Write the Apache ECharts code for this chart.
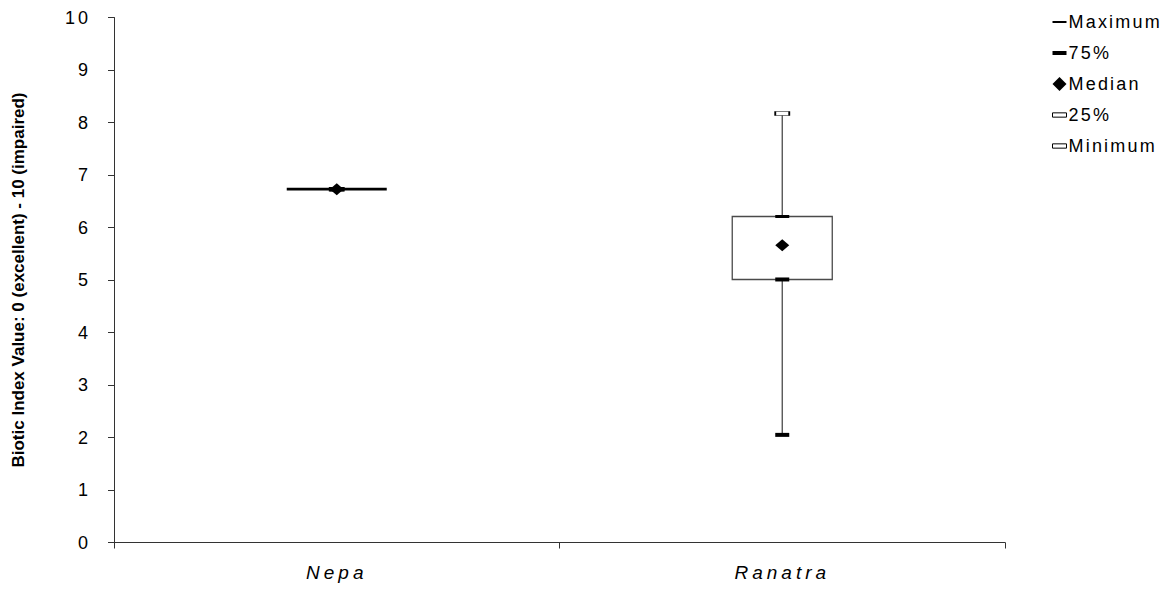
<!DOCTYPE html>
<html>
<head>
<meta charset="utf-8">
<script src="https://cdn.jsdelivr.net/npm/echarts@6/dist/echarts.min.js"></script>
<style>
html,body{margin:0;padding:0;background:#fff;}
#chart{width:1170px;height:591px;}
</style>
</head>
<body>
<div id="chart"></div>
<script>
const categories = ['Nepa', 'Ranatra'];
const maximum = [6.73, 8.17];
const q3 = [6.73, 6.21];
const median = [6.73, 5.66];
const q1 = [6.73, 5.01];
const minimum = [6.73, 2.05];
const yTicks = [0, 10, 1];
const yTitle = 'Biotic Index Value: 0 (excellent) - 10 (impaired)';
const legendNames = ['Maximum', '75%', 'Median', '25%', 'Minimum'];

const boxData = categories.map((c, i) => [i, minimum[i], q1[i], q3[i], maximum[i]]);

const chart = echarts.init(document.getElementById('chart'), null, { renderer: 'svg' });
const FONT = 'Liberation Sans, Arial, sans-serif';

function renderBox(params, api) {
  const x = api.value(0);
  const pMin = api.coord([x, api.value(1)]);
  const pQ1 = api.coord([x, api.value(2)]);
  const pQ3 = api.coord([x, api.value(3)]);
  const pMax = api.coord([x, api.value(4)]);
  const w = api.size([1, 0])[0] * 0.2245;
  const children = [];
  const flat = Math.abs(pQ1[1] - pQ3[1]) < 0.5;
  const stroke = { stroke: '#4a4a4a', lineWidth: 1.3 };
  if (!flat) {
    children.push({ type: 'line', shape: { x1: pMax[0], y1: pMax[1], x2: pQ3[0], y2: pQ3[1] }, style: stroke });
    children.push({ type: 'line', shape: { x1: pQ1[0], y1: pQ1[1], x2: pMin[0], y2: pMin[1] }, style: stroke });
    children.push({ type: 'rect', shape: { x: pQ1[0] - w / 2, y: pQ3[1], width: w, height: pQ1[1] - pQ3[1] }, style: Object.assign({ fill: '#fff' }, stroke) });
  } else {
    children.push({ type: 'line', shape: { x1: pQ1[0] - w / 2, y1: pQ1[1], x2: pQ1[0] + w / 2, y2: pQ1[1] }, style: { stroke: '#000', lineWidth: 2.7 } });
  }
  return { type: 'group', children: children };
}

function scatter(name, data, symbol, size, color, border, z) {
  return {
    name: name, type: 'scatter', data: data, symbol: symbol, symbolSize: size, z: z,
    itemStyle: { color: color, borderColor: border || color, borderWidth: border ? 1 : 0, opacity: 1 },
    emphasis: { disabled: true }, silent: true
  };
}

const option = {
  backgroundColor: '#fff',
  animation: false,
  grid: { left: 114, right: 165, top: 17.5, bottom: 48.5, containLabel: false, outerBoundsMode: 'none' },
  legend: {
    orient: 'vertical', left: 1052, top: 13, padding: 0, itemGap: 13, itemWidth: 14, itemHeight: 14,
    textStyle: { fontFamily: FONT, fontSize: 18, lineHeight: 18, color: '#000', padding: [0, 0, 0, -3] },
    data: [
      { name: legendNames[0], icon: 'path://M0,6L14,6L14,8L0,8Z', itemStyle: { color: '#000', borderWidth: 0 } },
      { name: legendNames[1], icon: 'path://M0,5L14,5L14,9L0,9Z', itemStyle: { color: '#000', borderWidth: 0 } },
      { name: legendNames[2], icon: 'path://M7,2L12,7L7,12L2,7Z', itemStyle: { color: '#000', borderWidth: 0 } },
      { name: legendNames[3], icon: 'path://M0.5,5L13.5,5L13.5,9L0.5,9Z', itemStyle: { color: '#fff', borderColor: '#000', borderWidth: 1 } },
      { name: legendNames[4], icon: 'path://M0.5,5L13.5,5L13.5,9L0.5,9Z', itemStyle: { color: '#fff', borderColor: '#000', borderWidth: 1 } }
    ]
  },
  xAxis: {
    type: 'category', data: categories, boundaryGap: true,
    axisLine: { lineStyle: { color: '#333', width: 1 } },
    axisTick: { show: true, length: 6, inside: false, lineStyle: { color: '#333' } },
    axisLabel: { fontFamily: FONT, fontSize: 19, fontStyle: 'italic', color: '#000', margin: 20 },
    splitLine: { show: false }
  },
  yAxis: {
    type: 'value', min: yTicks[0], max: yTicks[1], interval: yTicks[2],
    name: yTitle, nameLocation: 'middle', nameGap: 87, nameRotate: 90,
    nameTextStyle: { fontFamily: FONT, fontSize: 17, fontWeight: 'bold', color: '#000' },
    axisLine: { show: true, lineStyle: { color: '#333', width: 1 } },
    axisTick: { show: true, length: 6, lineStyle: { color: '#333' } },
    axisLabel: { fontFamily: FONT, fontSize: 18, color: '#000', margin: 23 },
    splitLine: { show: false }
  },
  series: [
    { name: 'box', type: 'custom', renderItem: renderBox, data: boxData, z: 2, silent: true,
      encode: { x: 0, y: [1, 2, 3, 4] } },
    scatter(legendNames[0], maximum, 'rect', [14, 4], '#fff', '#000', 3),
    scatter(legendNames[1], q3, 'rect', [14, 3], '#000', null, 4),
    scatter(legendNames[3], q1, 'rect', [14, 4], '#000', null, 4),
    scatter(legendNames[4], minimum, 'rect', [14, 4], '#000', null, 4),
    scatter(legendNames[2], median, 'diamond', [14, 12], '#000', null, 5)
  ]
};
chart.setOption(option);

// Excel-like wide letter spacing for the text groups
function spaceText() {
  const texts = document.querySelectorAll('#chart text');
  texts.forEach(t => {
    const s = t.textContent;
    let ls = 0;
    if (legendNames.indexOf(s) >= 0) ls = 2.2;
    else if (categories.indexOf(s) >= 0) ls = 4;
    else if (/^\d+$/.test(s)) ls = 3;
    if (ls) t.style.letterSpacing = ls + 'px';
  });
}
spaceText();
chart.on('finished', spaceText);
</script>
</body>
</html>
